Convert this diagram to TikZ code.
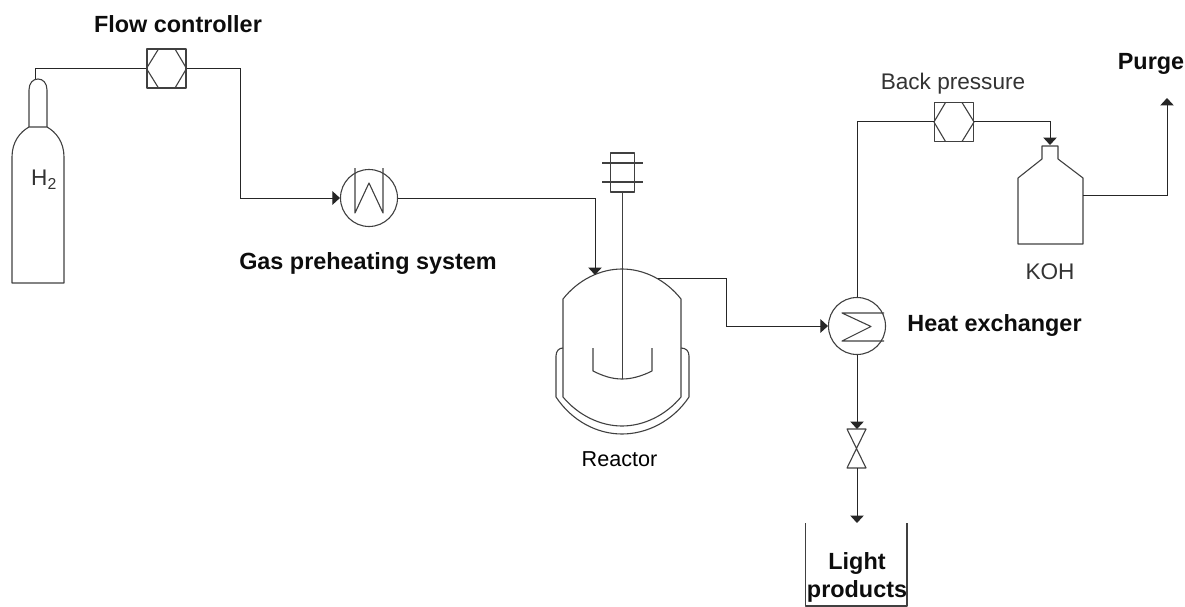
\documentclass[tikz,border=0pt]{standalone}
\usepackage{fontspec}
\setmainfont{Liberation Sans}
\usetikzlibrary{arrows.meta}
\definecolor{ln}{gray}{0.25}
\definecolor{txt}{gray}{0.05}
\definecolor{txtr}{gray}{0.2}
\tikzset{
 x=1pt,y=-1pt,
 equip/.style={draw=ln,line width=1.1pt,line join=round},
 pipe/.style={draw=black!85,line width=1pt},
 flow/.style={pipe,-{Triangle[width=13.5pt,length=7.5pt]}},
 valvebox/.style={equip,rectangle,minimum size=39pt,inner sep=0pt},
 disc/.style={equip,circle,inner sep=0pt,minimum size=57pt},
 boldlab/.style={font=\bfseries\fontsize{23.4}{28}\selectfont,text=txt,inner sep=0pt},
 plainlab/.style={font=\fontsize{22.6}{26}\selectfont,text=txtr,inner sep=0pt},
}
\begin{document}
\begin{tikzpicture}
\useasboundingbox (0,0) rectangle (1185,607);
% labels
\node[boldlab] (lfc) at (178,24) {Flow controller};
\node[boldlab] (lgas) at (368,263) {Gas preheating system};
\node[boldlab] (lhx) at (994.5,325) {Heat exchanger};
\node[boldlab] (lpurge) at (1151,64) {Purge};
\node[plainlab] (lbp) at (953,84) {Back pressure};
\node[plainlab] (lkoh) at (1050,272) {KOH};
\node[plainlab,text=black,font=\fontsize{21.6}{26}\selectfont] (lreact) at (619.5,459) {Reactor};
\node[plainlab] (lh2) at (44,180) {H\textsubscript{2}};
\node[boldlab,align=center] (llight) at (857,577) {Light\\products};
% cylinder
\coordinate (cyltop) at (35,79);
\draw[equip] (29,127) .. controls (20,132) and (12,142) .. (12,157) -- (12,283) -- (64,283) -- (64,157) .. controls (64,142) and (56,132) .. (47,127) -- cycle;
\draw[equip] (29,127) -- (29,90) .. controls (29,83) and (33,79) .. (38,79) .. controls (43,79) and (47,83) .. (47,90) -- (47,127);
% flow controller
\node[valvebox] (fc) at (166.5,68.5) {};
\draw[equip] (fc.west) -- (158.5,49) (fc.west) -- (158.5,88) (fc.east) -- (175,49) (fc.east) -- (175,88);
% heater
\node[disc] (heater) at (369,198) {};
\draw[equip] (355,168) -- (355,213) -- (369,183) -- (383,213) -- (383,168);
% reactor
\draw[equip] (563,397) -- (563,299) .. controls (578,280) and (600,269) .. (622,269) .. controls (644,269) and (666,280) .. (681,299) -- (681,397) .. controls (666,415) and (644,426) .. (622,426) .. controls (600,426) and (578,415) .. (563,397) -- cycle;
\draw[equip] (563,348) .. controls (559,348) and (556,351) .. (556,356) -- (556,397) .. controls (572,421) and (597,434) .. (622,434) .. controls (647,434) and (673,421) .. (689,397) -- (689,356) .. controls (689,351) and (686,348) .. (681,348);
\draw[equip] (593,348) -- (593,371) .. controls (603,376) and (612,379) .. (622,379) .. controls (632,379) and (642,376) .. (652,371) -- (652,348);
\node[equip,rectangle,minimum width=24pt,minimum height=39pt,inner sep=0pt] (motor) at (622.5,172.5) {};
\draw[equip] (602,163) -- (642.5,163) (602,182) -- (642.5,182);
\coordinate (shaftend) at (622.5,379);
\draw[equip] (motor.south) -- (shaftend);
\coordinate (rin) at (595,275);
\coordinate (rout) at (658,278);
% heat exchanger
\node[disc] (hx) at (857,326) {};
\draw[equip] (884,313) -- (842,313) -- (871,326.5) -- (842,341) -- (884,341);
% back pressure
\node[valvebox] (bp) at (954,122) {};
\draw[equip] (bp.west) -- (945.5,102.5) (bp.west) -- (945.5,141.5) (bp.east) -- (962,102.5) (bp.east) -- (962,141.5);
% KOH bottle
\draw[equip] (1042,146) -- (1042,159) -- (1018,178) -- (1018,244) -- (1083,244) -- (1083,178) -- (1058,159) -- (1058,146) -- cycle;
\coordinate (kin) at (1050,145);
\coordinate (kout) at (1083,195);
\coordinate (purgeend) at (1167,98);
% valve
\coordinate (vtop) at (857,429);
\coordinate (vbot) at (857,468);
\draw[equip] (847,429) -- (866,429) -- (847,468) -- (866,468) -- cycle;
% tank
\draw[equip] (805.5,523) -- (805.5,606) -- (907,606) -- (907,523);
\coordinate (tankin) at (857,523);
% connectors
\draw[pipe] (cyltop) -- (35,68.5) -- (fc.west);
\draw[flow] (fc.east) -- (240,68.5) -- (240,198) -- (heater.west);
\draw[flow] (heater.east) -- (595,198) -- (rin);
\draw[flow] (rout) -- (726,278) -- (726,326) -- (hx.west);
\draw[pipe] (hx.north) -- (857,122) -- (bp.west);
\draw[flow] (bp.east) -- (1050,122) -- (kin);
\draw[flow] (kout) -- (1167,195) -- (purgeend);
\draw[flow] (hx.south) -- (vtop);
\draw[flow] (vbot) -- (tankin);
\end{tikzpicture}
\end{document}
